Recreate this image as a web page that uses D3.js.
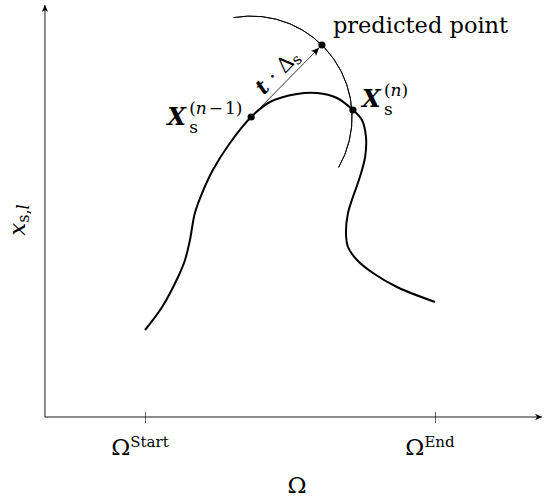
<!DOCTYPE html>
<html lang="en">
<head>
    <meta charset="UTF-8">
    <title>Predictor step</title>
    <style>
        body { margin: 0; background: #fff; }
        text { font-family: "DejaVu Serif", serif; fill: #000; }
    </style>
</head>
<body>
    <script src="https://d3js.org/d3.v7.min.js"></script>
    <script>
        // data (Ω in [Start, End] -> [0, 1], x_s,l in arbitrary units)
        const tickValues = [0, 1];
        const tickLabels = ["Start", "End"];
        const curveX = [0, 0.059, 0.114, 0.138, 0.155, 0.172, 0.197, 0.234, 0.293, 0.366, 0.431, 0.524, 0.593, 0.662,
                        0.717, 0.748, 0.762, 0.759, 0.741, 0.717, 0.700, 0.693, 0.700, 0.731, 0.786, 0.869, 1.0];
        const curveY = [0.87, 1.10, 1.40, 1.57, 1.77, 2.04, 2.24, 2.47, 2.74, 3.00, 3.15, 3.23, 3.24, 3.19,
                        3.07, 2.97, 2.80, 2.60, 2.40, 2.20, 2.04, 1.84, 1.70, 1.57, 1.44, 1.30, 1.15];
        const pointNames = ["prev", "curr", "pred"];
        const pointX = [0.366, 0.717, 0.610];
        const pointY = [3.00, 3.07, 3.72];
        const axisX = [-0.345, 1.369];
        const axisY = [0, 4.12];

        const width = 544, height = 500;

        const svg = d3.select("body").append("svg")
            .attr("width", width)
            .attr("height", height);

        const x = d3.scaleLinear().domain([0, 1]).range([145, 435]);
        const y = d3.scaleLinear().domain([0, 1]).range([417, 317]);

        const defs = svg.append("defs");
        defs.append("marker")
            .attr("id", "arrow")
            .attr("markerUnits", "userSpaceOnUse")
            .attr("markerWidth", 12)
            .attr("markerHeight", 12)
            .attr("viewBox", "-10 -6 12 12")
            .attr("refX", 0)
            .attr("refY", 0)
            .attr("orient", "auto")
            .append("path")
            .attr("d", "M0,0 L-7,-3.2 L-5,0 L-7,3.2 Z")
            .attr("fill", "#000");

        defs.append("marker")
            .attr("id", "tip")
            .attr("markerUnits", "userSpaceOnUse")
            .attr("markerWidth", 14)
            .attr("markerHeight", 12)
            .attr("viewBox", "-12 -6 14 12")
            .attr("refX", 0)
            .attr("refY", 0)
            .attr("orient", "auto")
            .append("path")
            .attr("d", "M-4,0 L-12,-3.5 L-10,0 L-12,3.5 Z")
            .attr("fill", "#000");

        // axes
        svg.append("line")
            .attr("x1", x(axisX[0])).attr("y1", y(axisY[0]))
            .attr("x2", x(axisX[1])).attr("y2", y(axisY[0]))
            .attr("stroke", "#000").attr("stroke-width", 0.9)
            .attr("marker-end", "url(#arrow)");
        svg.append("line")
            .attr("x1", x(axisX[0])).attr("y1", y(axisY[0]))
            .attr("x2", x(axisX[0])).attr("y2", y(axisY[1]))
            .attr("stroke", "#000").attr("stroke-width", 0.9)
            .attr("marker-end", "url(#arrow)");

        const xAxis = svg.append("g")
            .attr("transform", `translate(0,${y(0)})`)
            .call(d3.axisBottom(x).tickValues(tickValues).tickSize(5).tickFormat(() => ""));
        xAxis.select(".domain").remove();
        xAxis.selectAll(".tick line")
            .attr("y1", -5).attr("y2", 6)
            .attr("stroke", "#000").attr("stroke-width", 0.6);

        const tickText = svg.selectAll(".ticklabel")
            .data(tickValues)
            .enter()
            .append("text")
            .attr("class", "ticklabel")
            .attr("x", d => x(d) - 5)
            .attr("y", y(0) + 38)
            .attr("text-anchor", "middle")
            .attr("font-size", 23);
        tickText.append("tspan").text("Ω");
        tickText.append("tspan")
            .attr("dy", -8)
            .attr("font-size", 15)
            .text((d, i) => tickLabels[i]);

        svg.append("text")
            .attr("x", 297)
            .attr("y", 493)
            .attr("text-anchor", "middle")
            .attr("font-size", 23)
            .text("Ω");

        const yLabel = svg.append("text")
            .attr("transform", "translate(25,220) rotate(-90)")
            .attr("text-anchor", "middle")
            .attr("font-size", 23);
        yLabel.append("tspan").attr("font-style", "italic").text("x");
        yLabel.append("tspan").attr("font-size", 16).attr("dy", 4).text("s,");
        yLabel.append("tspan").attr("font-size", 16).attr("font-style", "italic").text("l");

        // solution branch
        const line = d3.line()
            .x((d, i) => x(curveX[i]))
            .y((d, i) => y(curveY[i]))
            .curve(d3.curveCatmullRom.alpha(0.5));
        svg.append("path")
            .attr("d", line(curveX))
            .attr("fill", "none")
            .attr("stroke", "#000")
            .attr("stroke-width", 2);

        const pts = pointNames.map((n, i) => ({ name: n, px: x(pointX[i]), py: y(pointY[i]) }));
        const prev = pts[0], curr = pts[1], pred = pts[2];

        // step-length arc around the previous point
        const r = Math.hypot(pred.px - prev.px, pred.py - prev.py);
        const arc = d3.arc()
            .innerRadius(r).outerRadius(r)
            .startAngle(-10 * Math.PI / 180)
            .endAngle(120 * Math.PI / 180);
        svg.append("path")
            .attr("transform", `translate(${prev.px},${prev.py})`)
            .attr("d", arc())
            .attr("fill", "none")
            .attr("stroke", "#000")
            .attr("stroke-width", 0.9);

        // tangent predictor
        svg.append("line")
            .attr("x1", prev.px).attr("y1", prev.py)
            .attr("x2", pred.px).attr("y2", pred.py)
            .attr("stroke", "#000").attr("stroke-width", 0.8)
            .attr("marker-end", "url(#tip)");

        svg.selectAll(".pt")
            .data(pts)
            .enter()
            .append("circle")
            .attr("class", "pt")
            .attr("cx", d => d.px)
            .attr("cy", d => d.py)
            .attr("r", 3.6)
            .attr("fill", "#000");

        const ang = Math.atan2(pred.py - prev.py, pred.px - prev.px) * 180 / Math.PI;
        const mx = prev.px + (pred.px - prev.px) * 0.5, my = prev.py + (pred.py - prev.py) * 0.5;
        const stepLabel = svg.append("text")
            .attr("transform", `translate(${mx},${my}) rotate(${ang}) translate(0,-6)`)
            .attr("text-anchor", "middle")
            .attr("font-size", 21);
        stepLabel.append("tspan").attr("font-weight", "bold").attr("font-style", "italic").text("t");
        stepLabel.append("tspan").text(" · Δ");
        stepLabel.append("tspan").attr("font-size", 15).attr("dy", 3).text("s");

        svg.append("text")
            .attr("x", pred.px + 11)
            .attr("y", 33)
            .attr("font-size", 22.5)
            .text("predicted point");

        // point labels X_s^(n-1), X_s^(n)
        function xLabel(px, py, sup) {
            svg.append("text")
                .attr("x", px).attr("y", py)
                .attr("font-size", 24)
                .attr("font-weight", "bold")
                .attr("font-style", "italic")
                .text("X");
            svg.append("text")
                .attr("x", px + 22).attr("y", py + 8)
                .attr("font-size", 17)
                .text("s");
            const s = svg.append("text")
                .attr("x", px + 22).attr("y", py - 11)
                .attr("font-size", 17);
            s.append("tspan").text("(");
            s.append("tspan").attr("font-style", "italic").text("n");
            if (sup) {
                s.append("tspan").attr("dx", 2).text("−");
                s.append("tspan").attr("dx", 2).text(sup);
            }
            s.append("tspan").text(")");
        }
        xLabel(prev.px - 84, prev.py + 8, "1");
        xLabel(curr.px + 9, curr.py - 3, null);
    </script>
</body>
</html>
